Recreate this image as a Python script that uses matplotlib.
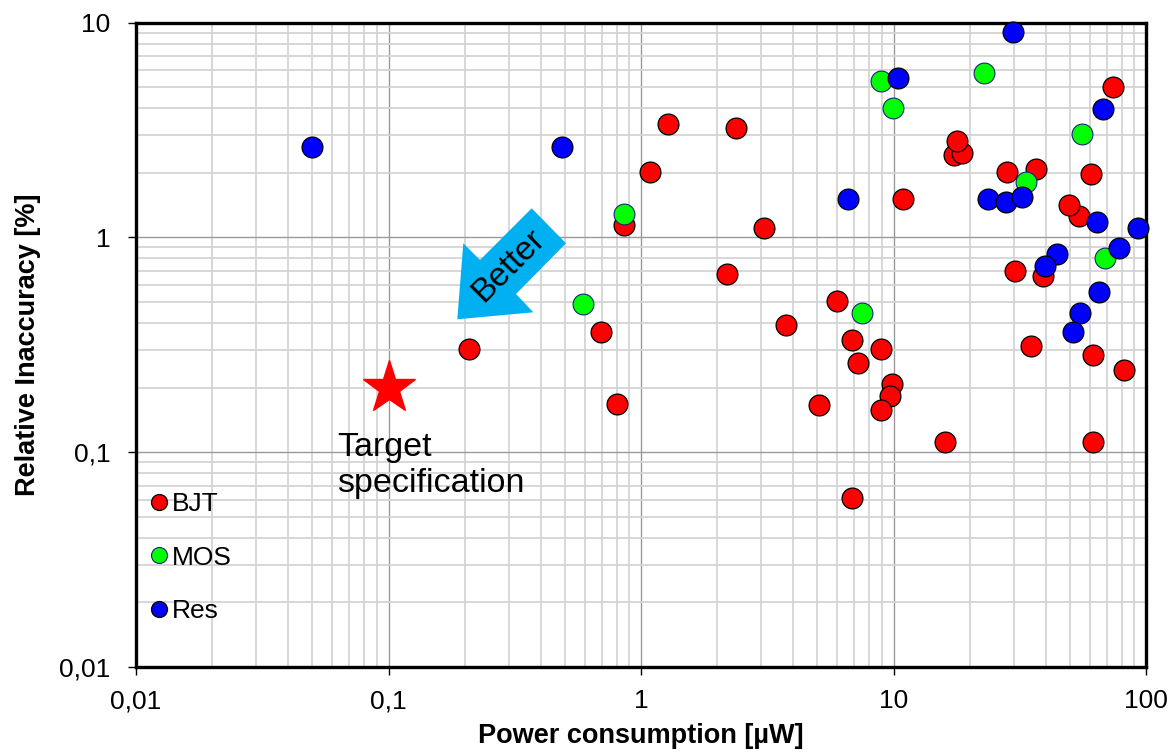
import matplotlib
matplotlib.use("Agg")
import matplotlib.pyplot as plt
from matplotlib.lines import Line2D
from matplotlib.patches import Polygon
from matplotlib.ticker import FixedLocator, FixedFormatter, LogLocator, NullFormatter

plt.rcParams['font.family'] = ['Liberation Sans', 'DejaVu Sans']

# ---- data ----
bjt_x = [0.208, 0.695, 0.803, 0.856, 1.09, 1.28, 2.38, 3.08, 2.19, 3.76, 5.97, 6.85,
         7.23, 8.93, 9.89, 9.69, 8.9, 5.07, 6.87, 16.0, 10.9, 17.4, 18.6, 17.8, 28.2,
         36.6, 60.6, 54.4, 49.5, 30.3, 39.2, 34.9, 61.7, 81.6, 61.7, 74.2]
bjt_y = [0.303, 0.362, 0.167, 1.14, 2.02, 3.37, 3.23, 1.11, 0.674, 0.393, 0.506, 0.333,
         0.261, 0.303, 0.207, 0.182, 0.158, 0.1666, 0.0614, 0.111, 1.51, 2.42, 2.48, 2.82, 2.01,
         2.08, 1.98, 1.26, 1.42, 0.696, 0.66, 0.313, 0.2836, 0.241, 0.111, 5.02]

mos_x = [0.589, 0.856, 8.93, 9.98, 22.9, 33.5, 55.6, 68.8, 7.48]
mos_y = [0.49, 1.29, 5.35, 4.02, 5.85, 1.81, 3.02, 0.805, 0.445]

res_x = [0.0498, 0.486, 6.6, 10.4, 29.8, 67.6, 23.7, 27.9, 32.2, 63.8, 93.2, 44.5,
         39.8, 78.3, 65.3, 54.8, 51.5]
res_y = [2.64, 2.64, 1.51, 5.53, 9.02, 3.96, 1.506, 1.46, 1.55, 1.18, 1.11, 0.838,
         0.737, 0.891, 0.556, 0.445, 0.364]

target_x = [0.1]
target_y = [0.2]

series_names = ['BJT', 'MOS', 'Res']

x_ticks = [0.01, 0.1, 1, 10, 100]
x_tick_labels = ['0,01', '0,1', '1', '10', '100']
y_ticks = [0.01, 0.1, 1, 10]
y_tick_labels = ['0,01', '0,1', '1', '10']

# ---- figure ----
W, H = 1176, 753
fig = plt.figure(figsize=(W / 100, H / 100), dpi=100)
L, R, T, B = 136, 1146, 22.7, 667
ax = fig.add_axes([L / W, 1 - B / H, (R - L) / W, (B - T) / H])
ax.set_xscale('log')
ax.set_yscale('log')
ax.set_xlim(0.01, 100)
ax.set_ylim(0.01, 10)

ax.xaxis.set_major_locator(FixedLocator(x_ticks))
ax.xaxis.set_major_formatter(FixedFormatter(x_tick_labels))
ax.yaxis.set_major_locator(FixedLocator(y_ticks))
ax.yaxis.set_major_formatter(FixedFormatter(y_tick_labels))
ax.xaxis.set_minor_locator(LogLocator(base=10, subs=range(2, 10)))
ax.yaxis.set_minor_locator(LogLocator(base=10, subs=range(2, 10)))
ax.xaxis.set_minor_formatter(NullFormatter())
ax.yaxis.set_minor_formatter(NullFormatter())

ax.grid(which='major', color='#9a9a9a', linewidth=1.0)
ax.grid(which='minor', color='#d4d4d4', linewidth=1.3)
ax.set_axisbelow(True)

for s in ax.spines.values():
    s.set_linewidth(2.4)
    s.set_color('black')

ax.tick_params(which='major', direction='out', length=6, width=1, colors='black',
               labelsize=19)
ax.tick_params(axis='x', which='major', pad=10)
ax.tick_params(axis='y', which='major', pad=12.3)
ax.tick_params(which='minor', length=0)

ax.set_xlabel('Power consumption [µW]', fontsize=19.5, fontweight='bold', labelpad=7)
ax.set_ylabel('Relative Inaccuracy [%]', fontsize=19.5, fontweight='bold', labelpad=13)

ms = 15
ax.plot(bjt_x, bjt_y, 'o', ms=ms, mfc='#ff0000', mec='black', mew=0.9, clip_on=False, zorder=3)
ax.plot(mos_x, mos_y, 'o', ms=ms, mfc='#00ff00', mec='#1a237e', mew=0.8, clip_on=False, zorder=4)
ax.plot(res_x, res_y, 'o', ms=ms, mfc='#0000ff', mec='black', mew=0.9, clip_on=False, zorder=5)

# target star
ax.plot(target_x, target_y, '*', ms=40, mfc='#ff0000', mec='#ff0000', zorder=6)
ax.text(337 / W, 1 - 492 / H, 'Target\nspecification', transform=fig.transFigure,
        fontsize=24.5, ha='left', va='baseline', linespacing=1.22, zorder=7)

# "Better" arrow (figure-pixel geometry)
arrow_px = [(531.7, 208.3), (566, 243.3), (516, 294), (533.3, 312.3),
            (457.3, 319.3), (463.3, 243.3), (480, 260)]
poly = Polygon([(x / W, 1 - y / H) for x, y in arrow_px], closed=True,
               transform=fig.transFigure, facecolor='#00b0f0', edgecolor='none', zorder=6)
fig.patches.append(poly)
fig.text(509 / W, 1 - 266 / H, 'Better', rotation=45, fontsize=24,
         ha='center', va='center', zorder=8)

# legend
handles = [
    Line2D([], [], ls='', marker='o', ms=11.5, mfc='#ff0000', mec='black', mew=0.9),
    Line2D([], [], ls='', marker='o', ms=11.5, mfc='#00ff00', mec='#1a237e', mew=0.8),
    Line2D([], [], ls='', marker='o', ms=11.5, mfc='#0000ff', mec='black', mew=0.9),
]
leg = ax.legend(handles, series_names, loc='upper left', bbox_to_anchor=(0.001, 0.292),
                frameon=False, fontsize=19, handlelength=0.7, handletextpad=0.12,
                labelspacing=1.12, borderaxespad=0.0, borderpad=0.5)

fig.savefig('out.png', dpi=100, facecolor='white')
